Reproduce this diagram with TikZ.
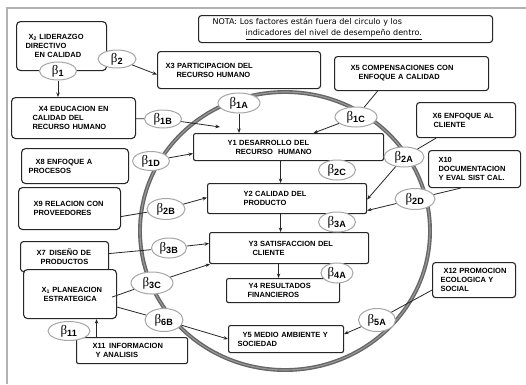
\documentclass[tikz,border=0pt]{standalone}
\usepackage{fontspec}
\usepackage{tikz}
\usetikzlibrary{arrows.meta,shapes.geometric}
\newfontfamily\boxsf{Liberation Sans}
\newfontfamily\notesf{DejaVu Sans}
\newfontfamily\greekrm{Liberation Serif}
\tikzset{
  factor/.style={draw=black!85, line width=1.1pt, rounded corners=4pt, fill=white, inner sep=0pt, align=left, anchor=north west, font=\boxsf\bfseries\fontsize{7.5}{9}\selectfont},
  indic/.style={factor, rounded corners=2pt},
  size/.style 2 args={minimum width=#1pt, text width=#1pt, minimum height=#2pt},
  coef/.style={ellipse, draw=black!35, line width=1pt, fill=white, inner sep=0pt, font=\greekrm\fontsize{13}{13}\selectfont},
  flow/.style={-{Stealth[length=4.5pt,width=3.5pt]}, line width=0.8pt, black!85},
  link/.style={line width=0.8pt, black!85},
  ring/.style={draw=black!60, line width=1.4pt, double=black!40, double distance=1.1pt}
}
\newcommand{\ind}[1]{\hspace*{#1pt}}
\newcommand{\coefb}[1]{β\textsubscript{\boxsf\bfseries #1}}

\begin{document}
\begin{tikzpicture}[x=1pt, y=-1pt]
  \useasboundingbox (0,0) rectangle (526,384);
  % frame
  \draw[black!30, line width=1.5pt] (7,384) -- (7,8) -- (526,8);

  % circle of indicators
  \draw[ring] (285,231) ellipse [x radius=145, y radius=139];

  % note
  \node[indic, size={294}{27}, rounded corners=3pt, font=\notesf\fontsize{8}{11}\selectfont] (nota) at (198,15)
    {\ind{14}NOTA: Los factores están fuera del circulo y los\\\ind{47}\underline{indicadores del nivel de desempeño dentro.}};

  % factors
  \node[factor, size={90}{49}] (x2) at (16,21) {\ind{12}X\textsubscript{2}\,\,LIDERAZGO\\\ind{9}DIRECTIVO\\\ind{18}EN CALIDAD\\[4pt]};
  \node[factor, size={163}{37}, rounded corners=3pt] (x3) at (157,51) {\ind{8}X3 PARTICIPACION DEL\\\ind{19}RECURSO HUMANO};
  \node[factor, size={154}{34}, rounded corners=3pt] (x5) at (334,56) {\ind{16}X5\,\,COMPENSACIONES CON\\\ind{24}ENFOQUE A CALIDAD\\[4pt]};
  \node[factor, size={124}{41}] (x4) at (11,97) {\ind{27}X4 EDUCACION EN\\\ind{21}CALIDAD DEL\\\ind{21}RECURSO HUMANO};
  \node[factor, size={99}{35}, rounded corners=3pt] (x6) at (416,102) {\ind{16}X6\,\,ENFOQUE AL\\\ind{17}CLIENTE\\[4pt]};
  \node[factor, size={107}{35}] (x8) at (21,148) {\ind{14}X8 ENFOQUE A\\\ind{7}PROCESOS\\[4pt]};
  \node[factor, size={92}{37}, rounded corners=3pt] (x10) at (428,150) {\ind{10}X10\\\ind{10}DOCUMENTACION\\\ind{10}Y EVAL SIST CAL.};
  \node[factor, size={102}{42}] (x9) at (18,187) {\ind{15}X9\,\,RELACION CON\\\ind{15}PROVEEDORES\\[8pt]};
  \node[factor, size={88}{30}, rounded corners=3pt] (x7) at (20,241) {\ind{16}X7\,\,\,DISEÑO DE\\\ind{20}PRODUCTOS};
  \node[factor, size={93}{49}] (x1) at (23,269) {\ind{18}X\textsubscript{1}\,\,PLANEACION\\\ind{20}ESTRATEGICA\\[10pt]};
  \node[factor, size={111}{26}, rounded corners=2pt] (x11) at (76,337) {\ind{16}X11\,\,\,INFORMACION\\\ind{19}Y ANALISIS};
  \node[factor, size={83}{35}, rounded corners=3pt] (x12) at (432,262) {\ind{11}X12 PROMOCION\\\ind{8}ECOLOGICA Y\\\ind{8}SOCIAL};

  % performance indicators
  \node[indic, size={190}{27}] (y1) at (193,133) {\ind{34}Y1 DESARROLLO DEL\\\ind{42}RECURSO\,\,\,\,HUMANO};
  \node[indic, size={159}{30}] (y2) at (207,183) {\ind{36}Y2 CALIDAD DEL\\\ind{36}PRODUCTO};
  \node[indic, size={159}{31}] (y3) at (209,232) {\ind{39}Y3 SATISFACCION DEL\\\ind{43}CLIENTE};
  \node[indic, size={113}{24}] (y4) at (226,278) {\ind{22}Y4 RESULTADOS\\\ind{21}FINANCIEROS};
  \node[indic, size={115}{27}] (y5) at (228,325) {\ind{14}Y5 MEDIO AMBIENTE Y\\\ind{9}SOCIEDAD};

  % coefficients
  \node[coef, minimum width=37pt, minimum height=18pt] (b1) at (58,71) {\coefb{1}};
  \node[coef, minimum width=38pt, minimum height=18pt] (b2) at (117,59) {\coefb{2}};
  \node[coef, minimum width=42pt, minimum height=20pt] (b1A) at (239,103) {\coefb{1A}};
  \node[coef, minimum width=37pt, minimum height=18pt] (b1B) at (163,119) {\coefb{1B}};
  \node[coef, minimum width=42pt, minimum height=20pt] (b1C) at (356,117) {\coefb{1C}};
  \node[coef, minimum width=37pt, minimum height=19pt] (b1D) at (151,161) {\coefb{1D}};
  \node[coef, minimum width=40pt, minimum height=20pt] (b2A) at (404,157) {\coefb{2A}};
  \node[coef, minimum width=37pt, minimum height=20pt] (b2C) at (337,170) {\coefb{2C}};
  \node[coef, minimum width=40pt, minimum height=21pt] (b2D) at (415,199) {\coefb{2D}};
  \node[coef, minimum width=38pt, minimum height=21pt] (b2B) at (166,209) {\coefb{2B}};
  \node[coef, minimum width=37pt, minimum height=20pt] (b3A) at (337,222) {\coefb{3A}};
  \node[coef, minimum width=35pt, minimum height=20pt] (b3B) at (169,248) {\coefb{3B}};
  \node[coef, minimum width=42pt, minimum height=22pt] (b3C) at (152,283) {\coefb{3C}};
  \node[coef, minimum width=32pt, minimum height=20pt] (b4A) at (337,273) {\coefb{4A}};
  \node[coef, minimum width=38pt, minimum height=23pt] (b6B) at (164,320) {\coefb{6B}};
  \node[coef, minimum width=42pt, minimum height=19pt] (b11) at (69,331) {\coefb{11}};
  \node[coef, minimum width=37pt, minimum height=23pt] (b5A) at (377,320) {\coefb{5A}};

  % factor -> coefficient
  \draw[link] (x4) -- (b1B);
  \draw[link] ([xshift=-34pt]x5.south) -- (b1C);
  \draw[link] ([xshift=-30pt]x6.south) -- (b2A);
  \draw[link] ([xshift=-14pt]x10.south) -- (b2D);
  \draw[link] ([yshift=-8pt]x9.east) -- (b2B);
  \draw[link] ([yshift=3pt]x7.east) -- (b3B);
  \draw[link] ([xshift=-5pt,yshift=-3pt]x1.east) -- (b3C);
  \draw[link] ([yshift=-13pt]x1.east) -- (b6B);
  \draw[link] ([yshift=-10pt]x12.west) -- (b5A);

  % coefficient -> box
  \draw[flow] (b1.south) -- (b1.south |- x4.north);
  \draw[flow] (b2) -- ([yshift=-4.5pt]x3.west);
  \draw[flow] (b1A.south) -- (b1A.south |- y1.north);
  \draw[flow] (b1B) -- ([xshift=27pt,yshift=6pt]y1.north west);
  \draw[flow] (b1C) -- ([xshift=25pt]y1.north);
  \draw[flow] (b1D) -- ([yshift=-6.5pt]y1.west);
  \draw[flow] (b2A) -- ([yshift=-1pt]y2.east);
  \draw[flow] (b2D) -- ([yshift=-12pt]y2.east);
  \draw[flow] (b2B) -- ([yshift=1pt]y2.west);
  \draw[flow] (b3B) -- ([yshift=4.5pt]y3.west);
  \draw[flow] (b3C) -- ([xshift=1pt]y3.south west);
  \draw[flow] (b6B) -- (y5.west);
  \draw[flow] (b5A) -- ([yshift=5pt]y5.east);
  \draw[flow] ([xshift=-35.5pt]x11.north) -- ([xshift=-35.5pt]x11.north |- x1.south);

  % indicator chain
  \draw[flow] ([xshift=-8pt]y1.south) -- ([xshift=-8pt]y1.south |- y2.north);
  \draw[flow] ([xshift=-6.5pt]y2.south) -- ([xshift=-6.5pt]y2.south |- y3.north);
  \draw[flow] ([xshift=-10.5pt]y3.south) -- ([xshift=-10.5pt]y3.south |- y4.north);
\end{tikzpicture}
\end{document}
